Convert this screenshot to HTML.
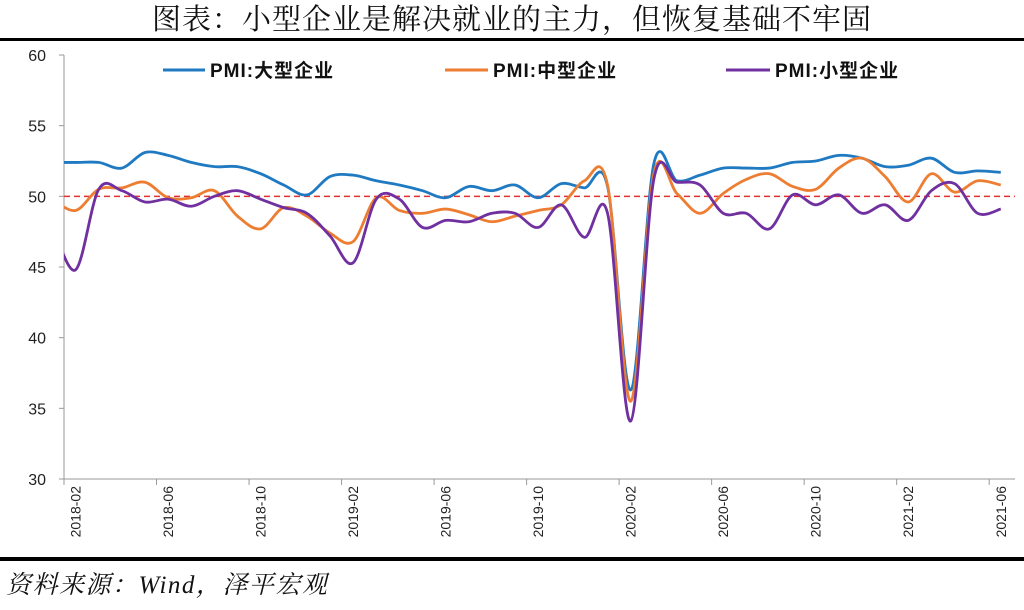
<!DOCTYPE html>
<html><head><meta charset="utf-8"><style>
body{margin:0;background:#fff;width:1024px;height:605px;overflow:hidden;font-family:"Liberation Sans","Noto Sans CJK SC",sans-serif}
</style></head><body>
<svg width="1024" height="605" id="chart" xmlns="http://www.w3.org/2000/svg">
<text x="512" y="29" text-anchor="middle" font-family="'Liberation Serif','Noto Serif CJK SC',serif" font-size="29" letter-spacing="1" fill="#111">图表：小型企业是解决就业的主力，但恢复基础不牢固</text>
<rect x="0" y="38" width="1024" height="3" fill="#000"/>
<rect x="0" y="557" width="1024" height="4" fill="#000"/>
<text x="6" y="593" font-family="'Liberation Serif','Noto Serif CJK SC',serif" font-style="italic" font-size="25" letter-spacing="1.5" fill="#111">资料来源：Wind，泽平宏观</text>
<g id="axes"></g>
<defs><clipPath id="pc"><rect x="64" y="50" width="951" height="430"/></clipPath></defs>
<g id="plot" clip-path="url(#pc)"></g>
<g id="legend" font-weight="bold" font-size="19" fill="#111">
<line x1="163" y1="70" x2="205" y2="70" stroke="#1f7ac2" stroke-width="3"/>
<text x="210" y="77" letter-spacing="1">PMI:大型企业</text>
<line x1="445" y1="70" x2="488" y2="70" stroke="#ed7d31" stroke-width="3"/>
<text x="493" y="77" letter-spacing="1">PMI:中型企业</text>
<line x1="726" y1="70" x2="770" y2="70" stroke="#7030a0" stroke-width="3"/>
<text x="775" y="77" letter-spacing="1">PMI:小型企业</text>
</g>
</svg>
<script>
// data starts 2018-01 (partly clipped), labels from 2018-02
const months = [];
for (let y = 2018, m = 1; months.length < 42; m++) { if (m > 12) { m = 1; y++; } months.push(y + '-' + String(m).padStart(2, '0')); }
const largePMI = [52.4,52.4,52.4,52.0,53.1,52.9,52.4,52.1,52.1,51.6,50.8,50.1,51.4,51.5,51.1,50.8,50.4,49.9,50.7,50.4,50.8,49.9,50.9,50.6,50.7,36.3,52.3,51.1,51.5,52.0,52.0,52.0,52.4,52.5,52.9,52.7,52.1,52.2,52.7,51.7,51.8,51.7];
const mediumPMI = [49.8,49.0,50.5,50.6,51.0,49.9,49.9,50.4,48.6,47.7,49.2,48.6,47.4,46.8,49.9,49.0,48.8,49.1,48.7,48.2,48.6,49.0,49.4,51.1,50.8,35.5,51.6,50.2,48.8,50.2,51.2,51.6,50.7,50.5,52.0,52.7,51.4,49.6,51.6,50.3,51.1,50.8];
const smallPMI = [48.0,44.8,50.5,50.4,49.6,49.8,49.3,50.0,50.4,49.8,49.2,48.8,47.2,45.3,49.8,49.8,47.8,48.3,48.2,48.8,48.8,47.8,49.4,47.1,48.8,34.1,51.2,51.0,50.8,48.8,48.8,47.7,50.1,49.4,50.1,48.8,49.4,48.3,50.4,50.9,48.8,49.1];
const yTicks = [30,35,40,45,50,55,60];
const refLine = 50;
const NS='http://www.w3.org/2000/svg';
const X0=64, STEP=23.13;
const xs = i => X0 + STEP*(i-1) + STEP/2;
const ys = v => 479 - (v-30)*14.133;
function el(t,a,p){const e=document.createElementNS(NS,t);for(const k in a)e.setAttribute(k,a[k]);p.appendChild(e);return e;}
const axes=document.getElementById('axes'), plot=document.getElementById('plot');
const yAxis=el('line',{x1:64,y1:55,x2:64,y2:479,stroke:'#999','stroke-width':1},axes);


const xAxis=el('line',{x1:64,y1:479,x2:1015,y2:479,stroke:'#999','stroke-width':1},axes);


yTicks.forEach(v=>{
  el('line',{x1:59,y1:ys(v),x2:64,y2:ys(v),stroke:'#999'},axes);
  const t=el('text',{x:46,y:ys(v)+6,'text-anchor':'end','font-size':16,fill:'#222'},axes);
  t.textContent=v;
  
  
});
for(let i=1;i<months.length;i+=4){
  const bx=X0+STEP*(i-1);
  el('line',{x1:bx,y1:479,x2:bx,y2:485,stroke:'#999'},axes);
  const cx=xs(i);
  const t=el('text',{x:0,y:0,'font-size':14,fill:'#222','text-anchor':'end',transform:`translate(${cx+5},486) rotate(-90)`},axes);
  t.textContent=months[i];
  
  
}
const rl=el('line',{x1:64,y1:ys(refLine),x2:1015,y2:ys(refLine),stroke:'#e03030','stroke-width':1.5,'stroke-dasharray':'6,4'},plot);


function smooth(vals){
  const p=vals.map((v,i)=>[xs(i),ys(v)]);
  let d=`M${p[0][0]},${p[0][1]}`;
  for(let i=0;i<p.length-1;i++){
    const p0=p[i-1]||p[i],p1=p[i],p2=p[i+1],p3=p[i+2]||p2;
    const c1=[p1[0]+(p2[0]-p0[0])/6,p1[1]+(p2[1]-p0[1])/6];
    const c2=[p2[0]-(p3[0]-p1[0])/6,p2[1]-(p3[1]-p1[1])/6];
    d+=` C${c1[0]},${c1[1]} ${c2[0]},${c2[1]} ${p2[0]},${p2[1]}`;
  }
  return d;
}
[[largePMI,'#1f7ac2','series-large'],[mediumPMI,'#ed7d31','series-medium'],[smallPMI,'#7030a0','series-small']].forEach(([v,c,n])=>{
  const path=el('path',{d:smooth(v),fill:'none',stroke:c,'stroke-width':2.8,'stroke-linejoin':'round'},plot);
  
  
});
</script>
</body></html>
